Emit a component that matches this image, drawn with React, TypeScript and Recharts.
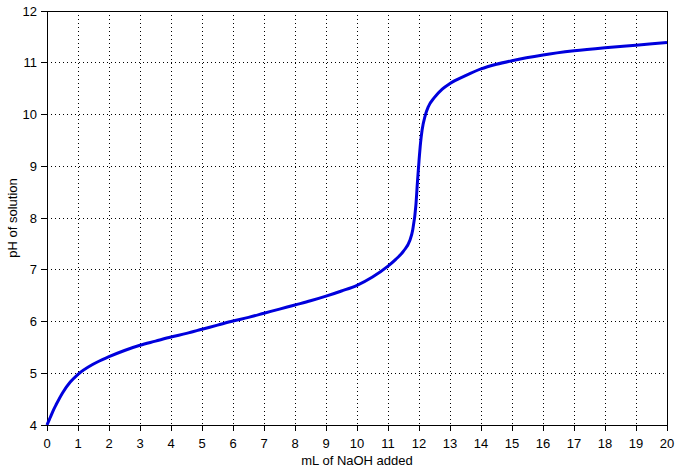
import { LineChart, Line, XAxis, YAxis, CartesianGrid, ReferenceLine } from 'recharts'

// mL of NaOH added
const volume = [
  0, 0.05, 0.1, 0.2, 0.3, 0.5, 0.75, 1, 1.5, 2, 2.5, 3, 3.5, 4, 4.5, 5, 5.5, 6, 6.5, 7, 7.5, 8, 8.5, 9, 9.5, 10,
  10.5, 11, 11.25, 11.5, 11.7, 11.8, 11.9, 11.95, 12, 12.05, 12.1, 12.2, 12.3, 12.5, 12.75, 13, 13.5, 14, 14.5,
  15, 16, 17, 18, 19, 20,
]

// pH of solution
const ph = [
  4.0, 4.07, 4.14, 4.28, 4.4, 4.62, 4.83, 4.98, 5.18, 5.32, 5.44, 5.54, 5.62, 5.7, 5.77, 5.85, 5.93, 6.01, 6.08,
  6.16, 6.24, 6.32, 6.4, 6.49, 6.59, 6.7, 6.86, 7.07, 7.2, 7.36, 7.56, 7.78, 8.25, 8.7, 9.1, 9.45, 9.7, 9.98,
  10.15, 10.33, 10.49, 10.6, 10.75, 10.88, 10.97, 11.04, 11.15, 11.23, 11.29, 11.34, 11.39,
]

const xTicks = [0, 1, 2, 3, 4, 5, 6, 7, 8, 9, 10, 11, 12, 13, 14, 15, 16, 17, 18, 19, 20]
const yTicks = [4, 5, 6, 7, 8, 9, 10, 11, 12]

const data = volume.map((v, i) => ({ v, ph: ph[i] }))

const font = { fontFamily: 'Liberation Sans, Arial, sans-serif', fontSize: 13, fill: '#000' }
const black = { stroke: '#000', strokeWidth: 1 }
const blank = () => ''

// keep the thin frame, ticks and dotted grid on whole pixels, like the matlab export
const crisp = `
.recharts-cartesian-grid line,
.recharts-cartesian-axis line,
.recharts-reference-line line { shape-rendering: crispEdges; }
`

const YTitle = ({ viewBox }: any) => {
  const cy = viewBox.y + viewBox.height / 2
  return (
    <text x={12} y={cy} transform={`rotate(-90 12 ${cy})`} textAnchor="middle" dominantBaseline="central" {...font}>
      pH of solution
    </text>
  )
}

export default function App() {
  return (
    <div style={{ position: 'absolute', left: 0, top: 0, background: '#fff' }}>
      <style>{crisp}</style>
      <LineChart width={679} height={470} data={data} margin={{ top: 11, right: 12, left: 7, bottom: 0 }}>
        <CartesianGrid stroke="#000" strokeDasharray="1 3" />
        <XAxis
          dataKey="v"
          type="number"
          domain={[0, 20]}
          ticks={xTicks}
          interval={0}
          height={45}
          axisLine={false}
          tickLine={black}
          tick={font}
          tickSize={6}
          tickMargin={8}
          label={{ value: 'mL of NaOH added', position: 'insideBottom', offset: 5.5, ...font }}
        />
        <XAxis
          xAxisId="top"
          orientation="top"
          dataKey="v"
          type="number"
          domain={[0, 20]}
          ticks={xTicks}
          interval={0}
          height={0}
          axisLine={false}
          tickLine={black}
          tickSize={6}
          tickFormatter={blank}
        />
        <YAxis
          type="number"
          domain={[4, 12]}
          ticks={yTicks}
          interval={0}
          width={40}
          axisLine={false}
          tickLine={black}
          tick={font}
          tickSize={6}
          tickMargin={4}
          label={<YTitle />}
        />
        <YAxis
          yAxisId="right"
          orientation="right"
          type="number"
          domain={[4, 12]}
          ticks={yTicks}
          interval={0}
          width={0}
          axisLine={false}
          tickLine={black}
          tickSize={6}
          tickFormatter={blank}
        />
        <ReferenceLine x={0} stroke="#000" />
        <ReferenceLine x={20} stroke="#000" />
        <ReferenceLine y={4} stroke="#000" />
        <ReferenceLine y={12} stroke="#000" />
        <Line
          type="monotone"
          dataKey="ph"
          stroke="#0000dd"
          strokeWidth={3}
          dot={false}
          isAnimationActive={false}
        />
      </LineChart>
    </div>
  )
}
